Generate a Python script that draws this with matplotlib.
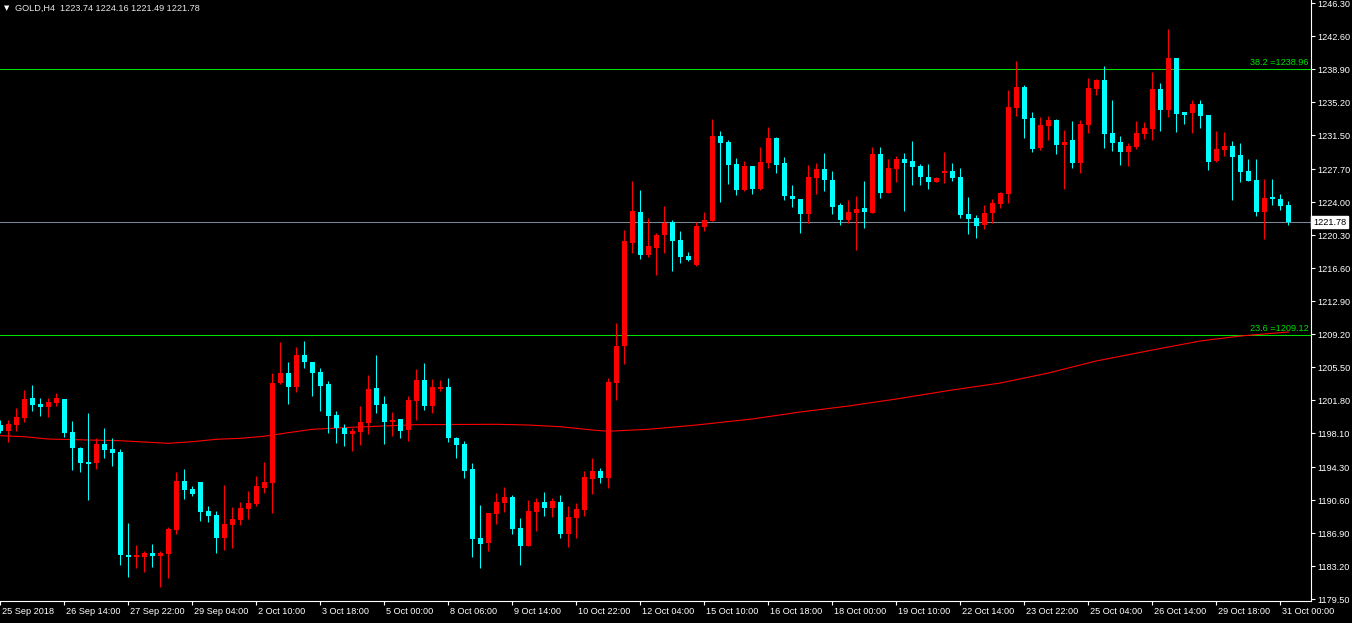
import matplotlib
matplotlib.use("Agg")
import matplotlib.pyplot as plt
import matplotlib.transforms as mtransforms
import numpy as np

opens = [1199.02,1198.38,1199.02,1199.84,1202.02,1201.38,1201.08,1201.49,1201.94,1198.24,
         1196.45,1194.88,1194.80,1196.89,1196.33,1196.00,1184.45,1184.23,1184.23,1184.67,
         1184.34,1184.60,1187.25,1192.75,1191.85,1192.63,1189.38,1188.93,1186.39,1187.81,
         1188.41,1189.61,1190.20,1191.99,1192.55,1203.73,1204.85,1203.32,1206.87,1206.09,
         1204.97,1203.62,1200.14,1198.65,1198.05,1198.27,1199.28,1203.17,1201.38,1199.39,
         1199.70,1198.50,1201.75,1204.07,1201.19,1203.09,1203.28,1197.57,1196.89,1194.09,
         1186.36,1185.83,1189.08,1190.28,1190.95,1187.48,1185.49,1189.30,1190.39,1189.75,
         1190.39,1186.84,1188.63,1189.53,1192.97,1193.87,1193.11,1203.77,1207.91,1219.46,
         1222.90,1218.12,1218.90,1220.36,1221.78,1219.76,1217.97,1216.96,1221.26,1221.93,
         1231.42,1230.75,1228.28,1225.40,1228.06,1225.52,1228.43,1231.20,1228.40,1224.70,
         1224.36,1222.71,1226.75,1227.72,1226.49,1223.69,1222.04,1222.82,1223.35,1222.82,
         1229.41,1225.07,1227.76,1228.85,1228.62,1228.06,1226.83,1226.30,1227.31,1227.50,
         1226.83,1222.68,1222.23,1221.48,1222.82,1223.83,1224.95,1234.60,1236.92,1233.44,
         1230.11,1232.58,1233.22,1230.45,1230.98,1228.43,1232.69,1236.73,1237.70,1231.76,
         1230.75,1229.66,1230.22,1231.68,1232.24,1236.69,1234.37,1240.17,1234.11,1234.04,
         1235.01,1233.78,1228.65,1229.89,1230.30,1229.29,1227.50,1226.49,1222.94,1224.58,
         1224.36,1223.74]
highs = [1199.58,1199.58,1200.90,1202.95,1203.51,1202.02,1202.02,1202.61,1201.94,1199.47,
         1196.56,1200.37,1197.53,1198.69,1197.57,1196.30,1188.04,1185.57,1184.90,1185.68,
         1184.90,1187.59,1193.72,1194.09,1192.22,1192.63,1189.94,1189.38,1192.30,1189.83,
         1190.39,1191.62,1193.31,1194.88,1204.85,1208.33,1206.09,1207.77,1208.44,1206.09,
         1205.41,1203.96,1200.59,1199.13,1198.72,1201.19,1204.63,1206.87,1202.27,1200.48,
         1199.70,1202.27,1205.30,1205.97,1204.18,1204.07,1204.29,1197.68,1197.23,1194.76,
         1190.05,1189.16,1191.40,1192.07,1191.18,1188.56,1190.62,1190.84,1191.51,1190.84,
         1191.18,1189.94,1190.28,1193.87,1195.32,1194.20,1204.29,1210.46,1220.88,1226.38,
         1225.37,1222.23,1220.55,1223.58,1222.01,1220.77,1218.42,1221.78,1222.90,1233.33,
         1231.98,1230.98,1228.96,1228.62,1228.06,1230.19,1232.43,1231.31,1229.07,1225.93,
         1224.36,1228.17,1228.40,1229.52,1227.50,1223.91,1224.25,1224.70,1226.38,1230.19,
         1230.19,1228.85,1229.18,1229.52,1230.86,1228.28,1228.28,1226.83,1229.63,1228.40,
         1227.84,1224.58,1222.57,1223.69,1224.36,1225.15,1236.58,1239.83,1237.14,1234.11,
         1233.55,1233.67,1233.33,1232.10,1233.10,1233.22,1237.93,1237.81,1239.27,1235.46,
         1231.42,1230.64,1233.10,1232.99,1238.60,1237.37,1243.42,1240.17,1234.11,1235.46,
         1235.46,1233.78,1231.98,1231.87,1230.86,1230.64,1228.85,1228.85,1226.60,1226.60,
         1224.92,1224.16]
lows = [1198.13,1197.15,1198.38,1199.39,1200.63,1200.07,1199.95,1201.19,1197.71,1193.98,
        1193.79,1190.62,1194.09,1195.36,1194.46,1183.33,1182.02,1183.03,1182.58,1183.14,
        1180.90,1181.90,1186.84,1190.73,1191.10,1188.29,1188.18,1184.71,1185.04,1185.27,
        1187.85,1188.52,1189.98,1191.43,1189.19,1203.65,1201.41,1202.76,1205.45,1202.31,
        1200.63,1198.16,1197.04,1196.70,1196.14,1196.81,1198.05,1200.40,1196.93,1197.82,
        1197.60,1197.26,1199.62,1200.74,1200.40,1202.87,1197.15,1195.36,1193.11,1184.26,
        1183.03,1184.93,1187.96,1189.30,1186.84,1183.36,1185.49,1187.17,1188.86,1188.74,
        1186.39,1185.38,1186.39,1188.86,1191.32,1192.55,1191.99,1201.86,1205.90,1218.34,
        1217.67,1217.89,1215.87,1218.34,1216.32,1217.22,1217.44,1216.88,1220.81,1221.93,
        1224.06,1226.08,1224.84,1225.29,1224.95,1225.40,1227.87,1227.31,1224.28,1223.50,
        1220.58,1221.70,1224.95,1225.29,1222.71,1221.48,1221.70,1218.64,1221.14,1222.82,
        1224.51,1225.07,1226.30,1223.05,1225.96,1225.96,1225.52,1226.30,1226.19,1226.41,
        1222.26,1220.47,1220.02,1221.03,1221.70,1223.39,1223.95,1233.70,1231.23,1229.66,
        1229.89,1231.01,1229.44,1225.52,1227.87,1227.31,1231.79,1236.05,1230.11,1229.78,
        1228.21,1228.09,1230.00,1231.12,1231.01,1232.02,1233.59,1231.91,1232.80,1231.79,
        1232.35,1227.65,1228.54,1229.21,1224.28,1226.30,1226.41,1222.49,1219.91,1223.72,
        1223.16,1221.49]
closes = [1198.35,1199.13,1199.89,1201.90,1201.30,1201.08,1201.60,1202.05,1198.16,1196.48,
          1194.80,1194.69,1196.89,1196.25,1195.92,1184.45,1184.23,1184.45,1184.67,1184.34,
          1184.67,1187.36,1192.75,1191.77,1191.29,1189.30,1188.82,1186.39,1187.92,1188.49,
          1189.72,1190.28,1192.22,1192.63,1203.73,1204.85,1203.32,1206.87,1206.12,1204.89,
          1203.43,1200.07,1198.69,1198.05,1198.35,1199.36,1203.06,1201.30,1199.39,1199.58,
          1198.38,1201.83,1204.07,1201.19,1203.28,1203.28,1197.60,1196.81,1193.90,1186.28,
          1185.72,1189.16,1190.39,1190.95,1187.40,1185.49,1189.38,1190.39,1189.75,1190.50,
          1186.84,1188.71,1189.61,1193.19,1193.87,1193.11,1203.84,1207.88,1219.65,1223.01,
          1218.12,1219.09,1220.32,1221.67,1219.69,1217.89,1217.56,1221.33,1222.01,1231.42,
          1230.67,1228.21,1225.40,1228.06,1225.52,1228.51,1231.20,1228.21,1224.73,1224.39,
          1222.71,1226.83,1227.72,1226.52,1223.50,1222.04,1222.90,1223.24,1222.94,1229.41,
          1225.07,1227.84,1228.85,1228.43,1227.98,1226.86,1226.30,1226.71,1227.50,1226.75,
          1222.60,1222.15,1221.37,1222.79,1223.91,1225.03,1234.67,1236.92,1233.36,1230.00,
          1232.66,1233.22,1230.45,1230.75,1228.43,1232.77,1236.80,1237.70,1231.68,1230.67,
          1229.66,1230.30,1231.76,1232.32,1236.69,1234.37,1240.17,1233.92,1233.81,1235.01,
          1233.70,1228.54,1229.97,1230.30,1229.10,1227.42,1226.41,1222.94,1224.47,1224.39,
          1223.61,1221.78]

# moving average (read at selected bars)
ma_bar = [0, 3, 6, 15, 21, 24, 27, 30, 33, 36, 39, 44, 47, 52, 62, 66, 70, 74, 76, 81,
          87, 94, 100, 106, 112, 119, 125, 131, 137, 144, 150, 155, 161]
ma_val = [1197.82, 1197.71, 1197.45, 1197.26, 1196.97, 1197.15, 1197.42, 1197.53, 1197.76,
          1198.16, 1198.54, 1198.77, 1198.88, 1199.06, 1199.10, 1199.02, 1198.83, 1198.46,
          1198.32, 1198.54, 1199.02, 1199.70, 1200.48, 1201.15, 1201.94, 1202.95, 1203.73,
          1204.85, 1206.20, 1207.43, 1208.44, 1209.00, 1209.45]

price_ticks = [1246.30, 1242.60, 1238.90, 1235.20, 1231.50, 1227.70, 1224.00, 1220.30,
               1216.60, 1212.90, 1209.20, 1205.50, 1201.80, 1198.10, 1194.30, 1190.60,
               1186.90, 1183.20, 1179.50]
time_labels = ["25 Sep 2018", "26 Sep 14:00", "27 Sep 22:00", "29 Sep 04:00", "2 Oct 10:00",
               "3 Oct 18:00", "5 Oct 00:00", "8 Oct 06:00", "9 Oct 14:00", "10 Oct 22:00",
               "12 Oct 04:00", "15 Oct 10:00", "16 Oct 18:00", "18 Oct 00:00", "19 Oct 10:00",
               "22 Oct 14:00", "23 Oct 22:00", "25 Oct 04:00", "26 Oct 14:00", "29 Oct 18:00",
               "31 Oct 00:00"]
time_label_bar = [8 * i for i in range(len(time_labels))]

fib_levels = [38.2, 23.6]
fib_prices = [1238.96, 1209.12]
bid_price = 1221.78
header = "GOLD,H4  1223.74 1224.16 1221.49 1221.78"

UP = "#ff0000"
DOWN = "#00ffff"
FIB = "#00e000"
BID = "#778899"
FONT = ["Liberation Sans", "DejaVu Sans"]
FS = 6.6

W, H = 1352, 623
fig = plt.figure(figsize=(W / 100, H / 100), dpi=100, facecolor="black")
ax = fig.add_axes([0, (H - 601) / H, 1311 / W, 601 / H], facecolor="black")

n = len(opens)
x = np.arange(n)
o = np.array(opens); h = np.array(highs); l = np.array(lows); c = np.array(closes)
up = c >= o
cols = np.where(up, UP, DOWN)

ax.vlines(x, l, h, colors=cols, linewidth=0.75, zorder=3)
bottoms = np.minimum(o, c)
heights = np.maximum(np.abs(c - o), 0.12)
ax.bar(x, heights, bottom=bottoms, width=0.625, color=cols, linewidth=0, zorder=4)

ax.plot(ma_bar, ma_val, color="#ff0000", linewidth=0.8, zorder=2)

for lev, p in zip(fib_levels, fib_prices):
    ax.axhline(p, color=FIB, linewidth=0.75, zorder=1)
    ax.text(0.998, p + 0.25, f"{lev} ={p:.2f}", color=FIB, fontsize=FS, family=FONT,
            ha="right", va="bottom", transform=ax.get_yaxis_transform(), zorder=5)

ax.axhline(bid_price, color=BID, linewidth=0.75, zorder=1)

ax.set_xlim(-0.04, 163.83)
ax.set_ylim(1179.29, 1246.67)

for s in ["top", "left"]:
    ax.spines[s].set_visible(False)
for s in ["right", "bottom"]:
    ax.spines[s].set_color("white")
    ax.spines[s].set_linewidth(0.8)

ax.yaxis.tick_right()
ax.set_yticks(price_ticks)
ax.set_yticklabels([f"{v:.2f}" for v in price_ticks], fontsize=FS, family=FONT, color="white")
ax.tick_params(axis="y", direction="out", length=3, width=0.8, color="white", pad=1.5)

ax.set_xticks(time_label_bar)
ax.set_xticklabels(time_labels, fontsize=FS, family=FONT, color="white", ha="left")
ax.tick_params(axis="x", direction="out", length=3, width=0.8, color="white", pad=1.5)
offset = mtransforms.ScaledTranslation(1.5 / 100, 0, fig.dpi_scale_trans)
for lab in ax.get_xticklabels():
    lab.set_transform(lab.get_transform() + offset)

ax.text(1.0015, bid_price, f"{bid_price:.2f}", transform=ax.get_yaxis_transform(),
        fontsize=FS, family=FONT, color="black", ha="left", va="center", zorder=10,
        bbox=dict(boxstyle="square,pad=0.2", facecolor="white", edgecolor="white"),
        clip_on=False)

fig.text(4 / W, 1 - 8 / H, "\u25BC", fontsize=5, color="white", family=["DejaVu Sans"],
         ha="left", va="center")
fig.text(15 / W, 1 - 8 / H, header, fontsize=FS, family=FONT, color="#e8e8e8",
         ha="left", va="center")

fig.savefig("out.png", dpi=100, facecolor="black")
